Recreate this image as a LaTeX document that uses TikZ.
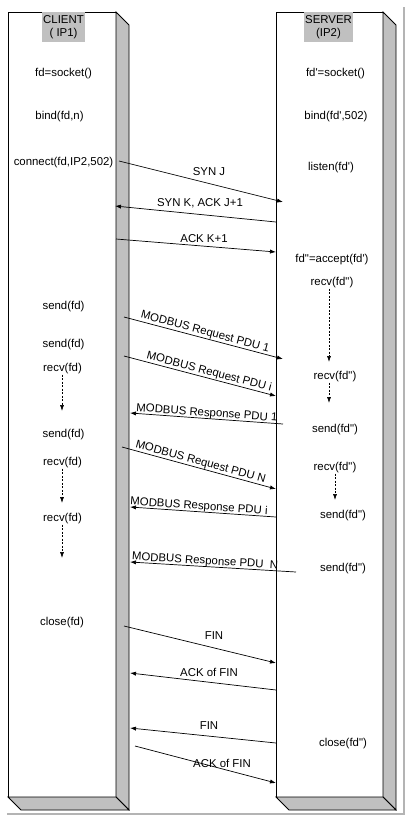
\documentclass[tikz,border=0pt]{standalone}
\usepackage{fontspec}
\newfontfamily\lsans{Liberation Sans}
\usetikzlibrary{arrows.meta}
\definecolor{sidegray}{HTML}{C0C0C0}
\definecolor{shadowgray}{HTML}{B4B4B4}
\begin{document}
\begin{tikzpicture}[x=1pt,y=-1pt,
  txt/.style={font=\lsans\fontsize{11.4}{13}\selectfont, inner sep=0pt, text=black},
  boxline/.style={draw=black, line width=0.8pt, line join=miter},
  msg/.style={draw=black, line width=0.7pt, -{Latex[length=6pt,width=4.2pt]}},
  rmsg/.style={draw=black, line width=0.7pt, {Latex[length=6pt,width=4.2pt]}-},
  wait/.style={draw=black, line width=0.6pt, dash pattern=on 2pt off 1.5pt, -{Latex[length=6pt,width=4pt]}},
  lbl/.style={txt, midway, sloped, above=0.5pt},
  hdr/.style={txt, fill=sidegray, align=center, minimum height=30pt},
]
\useasboundingbox (0,0) rectangle (410,820);
\fill[white] (0,0) rectangle (410,820);
% page shadow
\draw[shadowgray, line width=2.5pt] (404,7) -- (404,814) -- (7,814);

% client box
\draw[boxline, fill=white] (8,12) rectangle (116,797);
\draw[boxline, fill=sidegray] (116,12) -- (129,25) -- (129,810) -- (116,797) -- cycle;
\draw[boxline, fill=sidegray] (8,797) -- (21,810) -- (129,810) -- (116,797) -- cycle;
% server box
\draw[boxline, fill=white] (276,12) rectangle (383,797);
\draw[boxline, fill=sidegray] (383,12) -- (396,25) -- (396,810) -- (383,797) -- cycle;
\draw[boxline, fill=sidegray] (276,797) -- (289,810) -- (396,810) -- (383,797) -- cycle;

% headers
\node[hdr, minimum width=43pt] (hc) at (63.5,27) {CLIENT\\( IP1)};
\node[hdr, minimum width=49pt] (hs) at (328.5,27) {SERVER\\(IP2)};

% client texts
\node[txt] (c1) at (63.5,74) {fd=socket()};
\node[txt] (c2) at (59.5,117) {bind(fd,n)};
\node[txt] (c3) at (63.5,163) {connect(fd,IP2,502)};
\node[txt] (c4) at (63.5,307) {send(fd)};
\node[txt] (c5) at (63.5,345) {send(fd)};
\node[txt] (c6) at (62.5,369) {recv(fd)};
\node[txt] (c7) at (63.5,435) {send(fd)};
\node[txt] (c8) at (62.5,463) {recv(fd)};
\node[txt] (c9) at (62.5,519) {recv(fd)};
\node[txt] (c10) at (62,623) {close(fd)};

% server texts
\node[txt] (s1) at (335.5,74) {fd'=socket()};
\node[txt] (s2) at (336,117) {bind(fd',502)};
\node[txt] (s3) at (331,168) {listen(fd')};
\node[txt] (s4) at (332,260) {fd"=accept(fd')};
\node[txt] (s5) at (332,283) {recv(fd")};
\node[txt] (s6) at (335,377) {recv(fd")};
\node[txt] (s7) at (335,430) {send(fd")};
\node[txt] (s8) at (335,468) {recv(fd")};
\node[txt] (s9) at (343,516) {send(fd")};
\node[txt] (s10) at (343,569) {send(fd")};
\node[txt] (s11) at (343,744) {close(fd")};

% waiting arrows
\coordinate (d1e) at (62,411);
\coordinate (d2e) at (62,503);
\coordinate (d3e) at (62,558);
\coordinate (d4e) at (329,362);
\coordinate (d5e) at (329,403);
\coordinate (d6e) at (335,500);
\draw[wait] (c6.south -| d1e) -- (d1e);
\draw[wait] (c8.south -| d2e) -- (d2e);
\draw[wait] (c9.south -| d3e) -- (d3e);
\draw[wait] (s5.south -| d4e) -- (d4e);
\draw[wait] (s6.south -| d5e) -- (d5e);
\draw[wait] (s8.south -| d6e) -- (d6e);

% message end points
\coordinate (m1a) at (119,161); \coordinate (m1b) at (283,202);
\coordinate (m2a) at (115,206); \coordinate (m2b) at (276,222);
\coordinate (m3a) at (116,239); \coordinate (m3b) at (276,252);
\coordinate (m4a) at (124,317); \coordinate (m4b) at (283,359);
\coordinate (m5a) at (124,356); \coordinate (m5b) at (276,396);
\coordinate (m6a) at (130,413); \coordinate (m6b) at (283,424);
\coordinate (m7a) at (122,447); \coordinate (m7b) at (276,489);
\coordinate (m8a) at (130,507); \coordinate (m8b) at (276,517);
\coordinate (m9a) at (130,562); \coordinate (m9b) at (296,572);
\coordinate (m10a) at (124,626); \coordinate (m10b) at (276,663);
\coordinate (m11a) at (130,673); \coordinate (m11b) at (276,690);
\coordinate (m12a) at (130,728); \coordinate (m12b) at (276,743);
\coordinate (m13a) at (135,746); \coordinate (m13b) at (276,783);

% messages
\draw[msg] (m1a) -- (m1b);
\node[txt] (l1) at (209,172) {SYN J};
\draw[rmsg] (m2a) -- (m2b);
\node[txt] (l2) at (200,203) {SYN K, ACK J+1};
\draw[msg] (m3a) -- (m3b);
\node[txt] (l3) at (204,239) {ACK K+1};

\draw[msg] (m4a) -- (m4b) node[lbl] (l4) {MODBUS Request PDU 1};
\draw[msg] (m5a) -- (m5b) node[lbl, pos=0.55] (l5) {MODBUS Request PDU i};
\draw[rmsg] (m6a) -- (m6b) node[lbl, above=-1pt] (l6) {MODBUS Response PDU 1};
\draw[msg] (m7a) -- (m7b) node[lbl] (l7) {MODBUS Request PDU N};
\draw[rmsg] (m8a) -- (m8b) node[lbl, above=-1pt, pos=0.47] (l8) {MODBUS Response PDU i};
\draw[rmsg] (m9a) -- (m9b) node[lbl, above=-1pt, pos=0.45] (l9) {MODBUS Response PDU\ \ N};

\draw[msg] (m10a) -- (m10b);
\node[txt] (l10) at (214,636) {FIN};
\draw[rmsg] (m11a) -- (m11b);
\node[txt] (l11) at (209,672) {ACK of FIN};
\draw[rmsg] (m12a) -- (m12b);
\node[txt] (l12) at (209,726) {FIN};
\draw[msg] (m13a) -- (m13b);
\node[txt] (l13) at (222,763) {ACK of FIN};
\end{tikzpicture}
\end{document}
